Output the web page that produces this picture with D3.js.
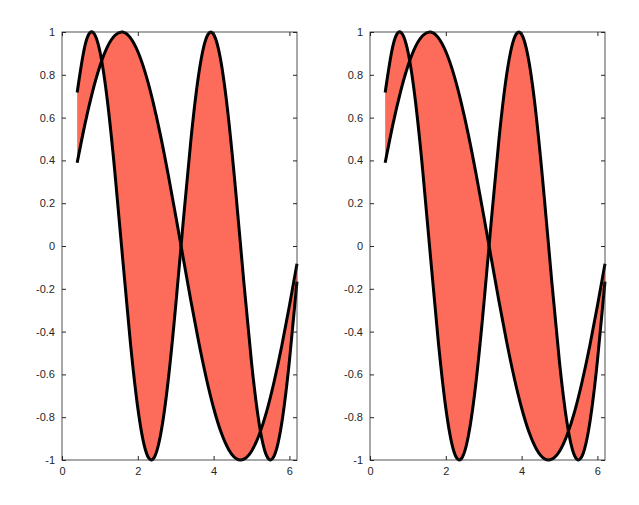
<!DOCTYPE html>
<html><head><meta charset="utf-8">
<script src="https://cdn.jsdelivr.net/npm/d3@7"></script>
<style>body{margin:0;background:#fff}svg{display:block}</style>
</head><body>
<svg id="c" width="639" height="505"></svg>
<script>
const xs = [0.4,0.6,0.8,1.0,1.2,1.4,1.6,1.8,2.0,2.2,2.4,2.6,2.8,3.0,3.2,3.4,3.6,3.8,4.0,4.2,4.4,4.6,4.8,5.0,5.2,5.4,5.6,5.8,6.0,6.2];
const seriesA = [.389,.565,.717,.841,.932,.985,1.0,.974,.909,.808,.675,.516,.335,.141,-.058,-.256,-.443,-.612,-.757,-.872,-.952,-.994,-.996,-.959,-.883,-.773,-.631,-.465,-.279,-.083];
const seriesB = [.717,.932,1.0,.909,.675,.335,-.058,-.443,-.757,-.952,-.996,-.883,-.631,-.279,.117,.494,.794,.968,.989,.855,.585,.223,-.174,-.544,-.828,-.981,-.980,-.825,-.537,-.166];
const xTicks = [0,2,4,6];
const yTicks = [-1,-0.8,-0.6,-0.4,-0.2,0,0.2,0.4,0.6,0.8,1];
const yLabels = ["-1","-0.8","-0.6","-0.4","-0.2","0","0.2","0.4","0.6","0.8","1"];

const svg = d3.select("#c");
const panels = [{l:62,r:297},{l:370,r:605}];
const yTop=32,yBot=460;
const data = xs.map((x,i)=>({x,a:seriesA[i],b:seriesB[i]}));
panels.forEach(p=>{
  const x = d3.scaleLinear().domain([0,6.2]).range([p.l,p.r]);
  const y = d3.scaleLinear().domain([-1,1]).range([yBot,yTop]);
  const g = svg.append("g");
  g.append("path").datum(data).attr("fill","#fd6b5a")
    .attr("d",d3.area().x(d=>x(d.x)).y0(d=>y(d.a)).y1(d=>y(d.b)).curve(d3.curveNatural));
  ["a","b"].forEach(k=>g.append("path").datum(data).attr("fill","none").attr("stroke","#000")
    .attr("stroke-width",3).attr("stroke-linejoin","round")
    .attr("d",d3.line().x(d=>x(d.x)).y(d=>y(d[k])).curve(d3.curveNatural)));
  const style = s=>{s.select(".domain").remove();s.selectAll("text").attr("font-family","Liberation Sans, Arial").attr("font-size",11).attr("fill","#262626");s.selectAll("line").attr("stroke","#262626");};
  g.append("g").attr("transform",`translate(0,${yBot})`).call(d3.axisBottom(x).tickValues(xTicks).tickSize(-4).tickPadding(7).tickFormat(d3.format("d"))).call(style);
  g.append("g").attr("transform",`translate(0,${yTop})`).call(d3.axisTop(x).tickValues(xTicks).tickSize(-4).tickFormat("")).call(style);
  g.append("g").attr("transform",`translate(${p.l},0)`).call(d3.axisLeft(y).tickValues(yTicks).tickSize(-4).tickPadding(7).tickFormat((d,i)=>yLabels[i])).call(style);
  g.append("g").attr("transform",`translate(${p.r},0)`).call(d3.axisRight(y).tickValues(yTicks).tickSize(-4).tickFormat("")).call(style);
  g.append("rect").attr("x",p.l).attr("y",yTop).attr("width",p.r-p.l).attr("height",yBot-yTop)
    .attr("fill","none").attr("stroke","#262626").attr("stroke-width",0.8);
});
</script>
</body></html>
